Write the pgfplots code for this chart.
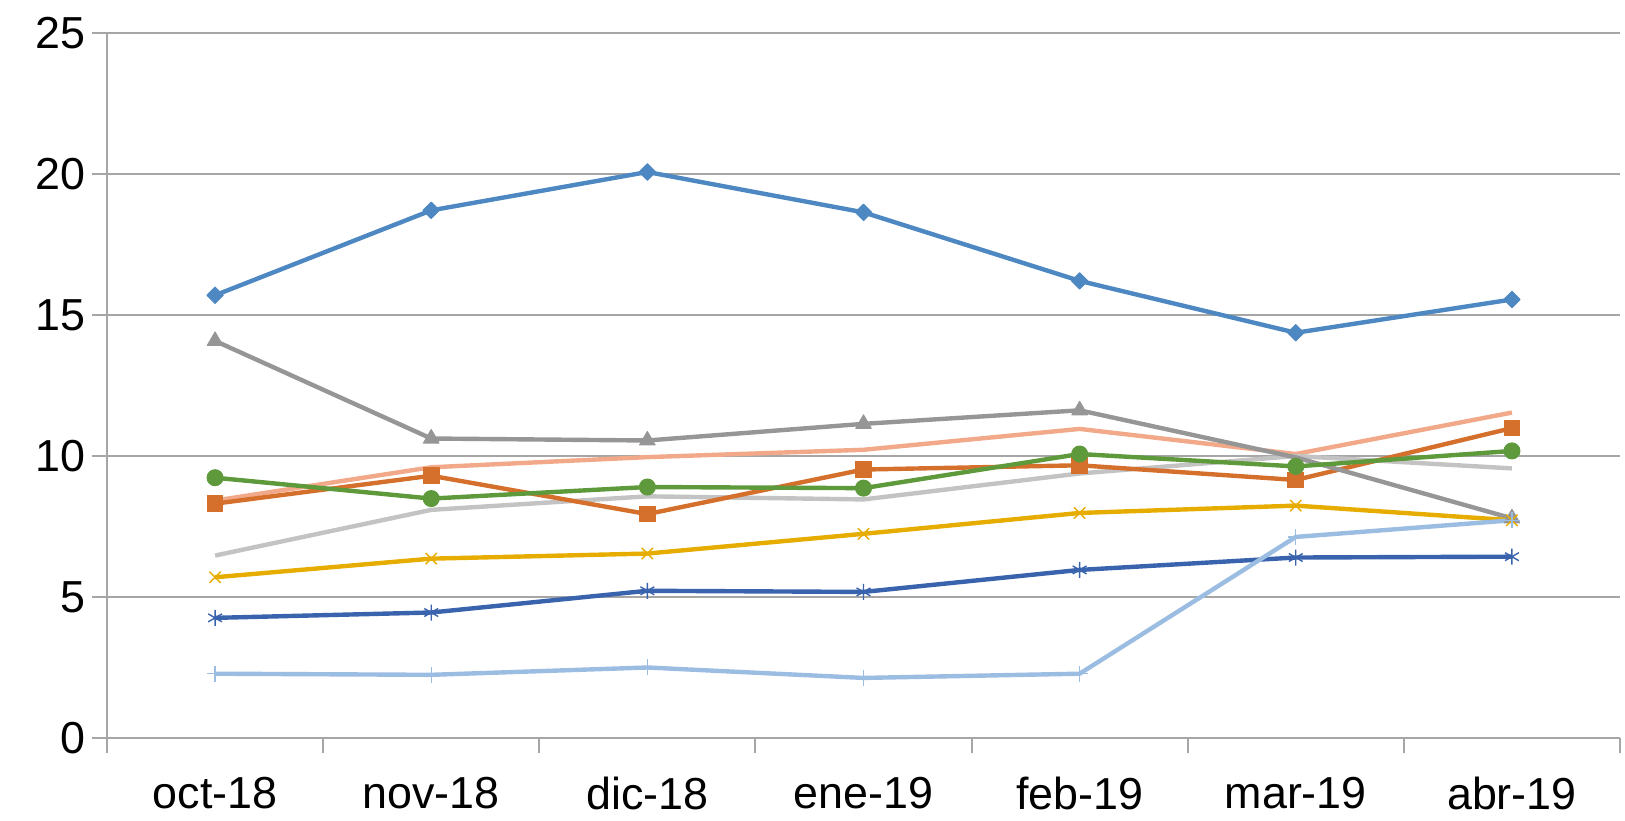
\documentclass[border=0pt]{standalone}
\usepackage{fontspec}
\setmainfont{Liberation Sans}
\usepackage{pgfplots}
\pgfplotsset{compat=1.18}

\definecolor{cBlue}{HTML}{4E88C2}
\definecolor{cOrange}{HTML}{D5702C}
\definecolor{cGray}{HTML}{969696}
\definecolor{cGold}{HTML}{E6AC00}
\definecolor{cNavy}{HTML}{3A63AD}
\definecolor{cGreen}{HTML}{5E9A3C}
\definecolor{cSalmon}{HTML}{F2A98A}
\definecolor{cLgray}{HTML}{C3C3C3}
\definecolor{cLblue}{HTML}{9CBDE2}
\definecolor{cGrid}{HTML}{A6A6A6}

\begin{document}
\begin{tikzpicture}
\begin{axis}[
    at={(0,0)}, anchor=south west,
    scale only axis,
    width=756.5bp, height=352.5bp,
    xmin=-0.5, xmax=6.5,
    ymin=0, ymax=25,
    axis x line=bottom, axis y line=left,
    axis line style={draw=cGrid, line width=1bp, -},
    % category boundaries carry the tick marks
    xtick={-0.5,0.5,...,6.5},
    xticklabels={},
    % category names sit between them
    extra x ticks={0,...,6},
    extra x tick labels={oct-18,nov-18,dic-18,ene-19,feb-19,mar-19,abr-19},
    extra x tick style={major tick length=0pt},
    ytick={0,5,...,25},
    major tick length=7.5bp,
    tick align=outside,
    tick style={draw=cGrid, line width=1bp},
    ymajorgrids,
    grid style={draw=cGrid, line width=1bp},
    /pgf/number format/assume math mode=true,
    tick label style={font=\fontsize{22.5}{27}\selectfont, text=black},
    xticklabel style={yshift=-16bp},
    clip=false,
    line join=round,
  ]
  % series without markers first
  \addplot[cSalmon, line width=2.2bp] coordinates {
    (0,8.42) (1,9.60) (2,9.96) (3,10.22) (4,10.96) (5,10.07) (6,11.54)};
  \addplot[cLgray, line width=2.2bp] coordinates {
    (0,6.47) (1,8.09) (2,8.57) (3,8.46) (4,9.38) (5,10.00) (6,9.56)};
  \addplot[cBlue, line width=2.2bp, mark=square*, mark size=2.9bp,
    mark options={rotate=45, line width=0.5bp}] coordinates {
    (0,15.70) (1,18.71) (2,20.07) (3,18.64) (4,16.21) (5,14.37) (6,15.55)};
  \addplot[cOrange, line width=2.2bp, mark=square*, mark size=3.9bp,
    mark options={line width=0.5bp}] coordinates {
    (0,8.31) (1,9.30) (2,7.94) (3,9.52) (4,9.67) (5,9.15) (6,10.99)};
  \addplot[cGray, line width=2.2bp, mark=triangle*, mark size=4.5bp,
    mark options={line width=0.5bp}, mark indices={1,2,3,4,5,7}] coordinates {
    (0,14.08) (1,10.62) (2,10.55) (3,11.14) (4,11.62) (5,9.95) (6,7.79)};
  \addplot[cGold, line width=2.2bp, mark=x, mark size=4bp,
    mark options={line width=0.7bp}] coordinates {
    (0,5.70) (1,6.36) (2,6.54) (3,7.24) (4,7.98) (5,8.24) (6,7.72)};
  \addplot[cNavy, line width=2.2bp, mark=asterisk, mark size=4bp,
    mark options={line width=0.7bp}] coordinates {
    (0,4.26) (1,4.45) (2,5.22) (3,5.18) (4,5.96) (5,6.40) (6,6.43)};
  \addplot[cGreen, line width=2.2bp, mark=*, mark size=4bp,
    mark options={line width=0.5bp}] coordinates {
    (0,9.23) (1,8.49) (2,8.90) (3,8.86) (4,10.07) (5,9.63) (6,10.18)};
  \addplot[cLblue, line width=2.2bp, mark=+, mark size=4bp,
    mark options={line width=0.7bp}] coordinates {
    (0,2.28) (1,2.24) (2,2.50) (3,2.13) (4,2.28) (5,7.13) (6,7.72)};
\end{axis}
\pgfresetboundingbox
\path (-53.5bp,-41.5bp) rectangle (759bp,369bp);
\end{tikzpicture}
\end{document}
